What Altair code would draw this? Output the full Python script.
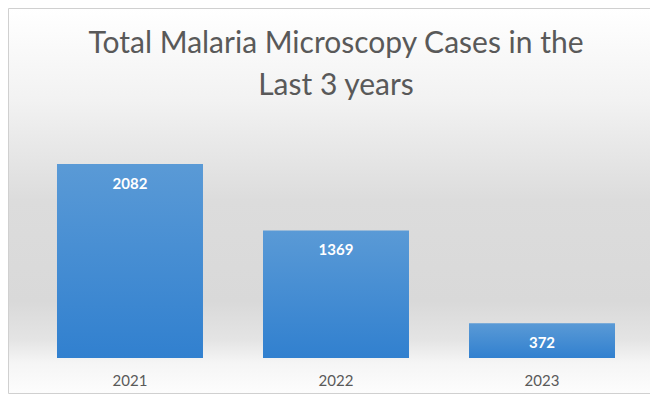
import altair as alt
import pandas as pd

years = ["2021", "2022", "2023"]
cases = [2082, 1369, 372]
title_lines = ["Total Malaria Microscopy Cases in the", "Last 3 years"]

df = pd.DataFrame({"year": years, "cases": cases})

W, H = 618, 233
PAD = {"left": 19, "top": 117, "right": 5, "bottom": 36}

bg_grad = {
    "gradient": "linear", "x1": 0, "y1": 0, "x2": 0, "y2": 1,
    "stops": [
        {"offset": 0.0, "color": "#ffffff"},
        {"offset": 0.24, "color": "#f2f2f2"},
        {"offset": 0.5, "color": "#dcdcdc"},
        {"offset": 0.76, "color": "#d9d9d9"},
        {"offset": 0.86, "color": "#e4e4e4"},
        {"offset": 0.92, "color": "#f5f5f5"},
        {"offset": 1.0, "color": "#fdfdfd"},
    ],
}
bar_grad = {
    "gradient": "linear", "x1": 0, "y1": 0, "x2": 0, "y2": 1,
    "stops": [
        {"offset": 0.0, "color": "#5a9ad6"},
        {"offset": 1.0, "color": "#3180cf"},
    ],
}

base = alt.Chart(df)
one = base.transform_filter(alt.datum.year == years[0])

background = one.mark_rect(fill=bg_grad, stroke="#d0d0d0", strokeWidth=1).encode(
    x=alt.value(-18.5), x2=alt.value(623.5),
    y=alt.value(-116.5), y2=alt.value(268.5),
)

title_style = dict(font="Lato", fontSize=30, color="#595959",
                   align="center", baseline="alphabetic")
title1 = one.mark_text(text=title_lines[0], **title_style).encode(
    x=alt.value(W / 2), y=alt.value(-72))
title2 = one.mark_text(text=title_lines[1], **title_style).encode(
    x=alt.value(W / 2), y=alt.value(-30))

x_enc = alt.X(
    "year:N", sort=years, title=None,
    scale=alt.Scale(paddingInner=0.2913, paddingOuter=0.1456),
    axis=alt.Axis(labelAngle=0, labelFont="Lato", labelFontSize=15,
                  labelColor="#595959", labelPadding=15, domain=False,
                  ticks=False, grid=False, zindex=2),
)
y_enc = alt.Y("cases:Q", title=None, scale=alt.Scale(domain=[0, 2500], nice=False),
              axis=None)

bars = base.mark_bar(color=bar_grad).encode(x=x_enc, y=y_enc)

labels = base.mark_text(
    font="Lato", fontSize=15, fontWeight="bold", color="#ffffff",
    baseline="middle", dy=20,
).encode(x=alt.X("year:N", sort=years), y=alt.Y("cases:Q"), text="cases:Q")

chart = alt.layer(background, title1, title2, bars, labels).properties(
    width=W, height=H, padding=PAD,
    autosize=alt.AutoSizeParams(type="none"),
).configure_view(stroke=None).configure(background="#ffffff")

chart.save("out.html", embed_options={"renderer": "svg", "actions": False})
